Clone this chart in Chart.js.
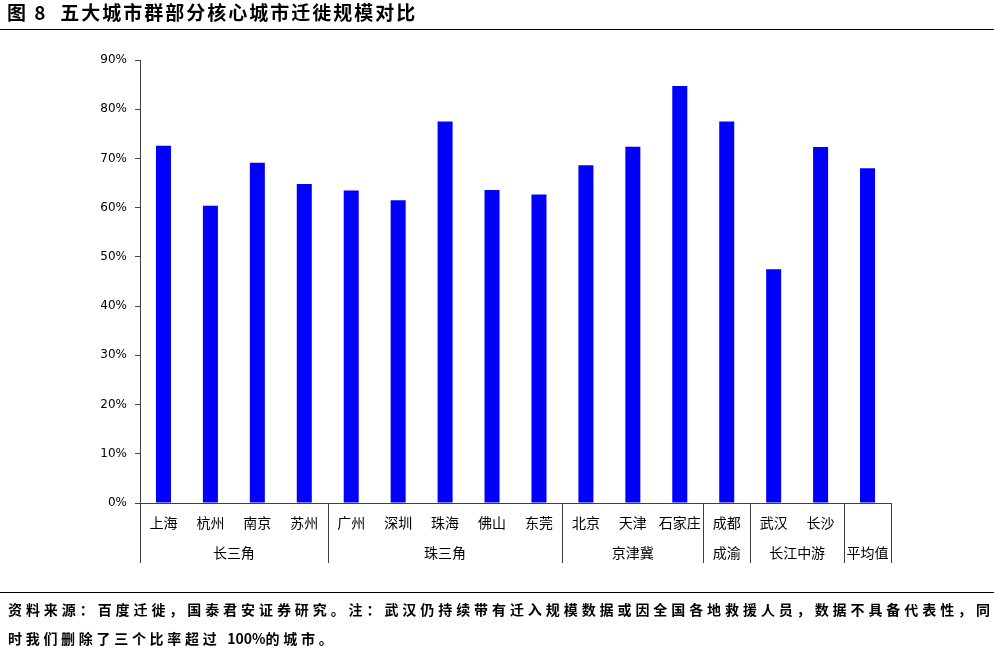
<!DOCTYPE html>
<html>
<head>
<meta charset="utf-8">
<script src="https://cdn.jsdelivr.net/npm/chart.js@4/dist/chart.umd.min.js"></script>
<style>
  html, body { margin: 0; padding: 0; background: #fff; }
  #wrap { position: relative; width: 994px; height: 653px; overflow: hidden; }
  #c { position: absolute; left: 0; top: 0; }
  #title { position: absolute; left: 7px; top: 0px; font: bold 19px "Noto Sans CJK SC", sans-serif; letter-spacing: 2px; color: #000; line-height: 24px; white-space: pre; }
  #topline { position: absolute; left: 0; top: 29px; width: 994px; height: 0; border-top: 1.5px solid #000; }
  #botline { position: absolute; left: 0; top: 592px; width: 994px; height: 0; border-top: 1.5px solid #000; }
  .foot { position: absolute; left: 8px; font: bold 14px "Noto Sans CJK SC", sans-serif; color: #000; white-space: nowrap; line-height: 18px; }
  #f1 { width: 982px; text-align: justify; text-align-last: justify; text-justify: inter-character; }
  #f2 { letter-spacing: 3.7px; }
  #f2 .num { letter-spacing: 0; }
</style>
</head>
<body>
<div id="wrap">
  <canvas id="c" width="994" height="653"></canvas>
  <div id="title">图 8  五大城市群部分核心城市迁徙规模对比</div>
  <div id="topline"></div>
  <div id="botline"></div>
  <div class="foot" id="f1" style="top:600px">资料来源：百度迁徙，国泰君安证券研究。注：武汉仍持续带有迁入规模数据或因全国各地救援人员，数据不具备代表性，同</div>
  <div class="foot" id="f2" style="top:629px">时我们删除了三个比率超过 <span class="num">100%</span>的城市。</div>
</div>
<script>
const cities = ['上海','杭州','南京','苏州','广州','深圳','珠海','佛山','东莞','北京','天津','石家庄','成都','武汉','长沙',''];
const migrationRatio = [72.6, 60.4, 69.1, 64.8, 63.5, 61.5, 77.5, 63.6, 62.7, 68.6, 72.4, 84.7, 77.5, 47.5, 72.3, 68.0];
const groupNames = ['长三角','珠三角','京津冀','成渝','长江中游','平均值'];
const groupSizes = [4, 5, 3, 1, 2, 1];
const yTicks = [0, 10, 20, 30, 40, 50, 60, 70, 80, 90];

const AXIS = '#404040';
const LABEL_FONT = '"DejaVu Sans", "Noto Sans CJK SC", sans-serif';

const groupPlugin = {
  id: 'groupRow',
  afterDraw(chart) {
    const x = chart.scales.x;
    const ctx = chart.ctx;
    const n = cities.length;
    const w = (x.right - x.left) / n;
    const top = x.top;
    const bottom = top + 60;
    ctx.save();
    ctx.strokeStyle = AXIS;
    ctx.lineWidth = 1;
    let start = 0;
    const edges = [0];
    groupSizes.forEach(s => { start += s; edges.push(start); });
    edges.forEach(e => {
      const px = Math.round(x.getPixelForValue(0) - w / 2 + e * w) + 0.5;
      ctx.beginPath();
      ctx.moveTo(px, top);
      ctx.lineTo(px, bottom);
      ctx.stroke();
    });
    ctx.fillStyle = '#000';
    ctx.font = '14px "Noto Sans CJK SC", sans-serif';
    ctx.textAlign = 'center';
    ctx.textBaseline = 'middle';
    for (let i = 0; i < groupNames.length; i++) {
      const a = x.getPixelForValue(0) - w / 2 + edges[i] * w;
      const b = x.getPixelForValue(0) - w / 2 + edges[i + 1] * w;
      ctx.fillText(groupNames[i], (a + b) / 2, top + 50);
    }
    ctx.restore();
  }
};

new Chart(document.getElementById('c'), {
  type: 'bar',
  data: {
    labels: cities,
    datasets: [{
      data: migrationRatio,
      backgroundColor: '#0000FF',
      borderWidth: 0,
      categoryPercentage: 1,
      barPercentage: 0.32
    }]
  },
  options: {
    responsive: false,
    animation: false,
    devicePixelRatio: 1,
    layout: { padding: { left: 80, right: 103, top: 60, bottom: 80 } },
    plugins: { legend: { display: false }, tooltip: { enabled: false }, title: { display: false } },
    scales: {
      x: {
        type: 'category',
        grid: { display: false, drawTicks: false },
        border: { display: true, color: AXIS, width: 1 },
        ticks: { color: '#000', font: { family: '"Noto Sans CJK SC", sans-serif', size: 14 }, padding: 11, maxRotation: 0, autoSkip: false },
        afterFit(s) { s.height = 70; }
      },
      y: {
        min: 0, max: 90,
        afterBuildTicks(s) { s.ticks = yTicks.map(v => ({ value: v })); },
        grid: { display: true, drawOnChartArea: false, drawTicks: true, tickLength: 5, color: AXIS },
        border: { display: true, color: AXIS, width: 1 },
        ticks: { color: '#000', font: { family: LABEL_FONT, size: 12 }, padding: 8, callback: v => v + '%' },
        afterFit(s) { s.width = 60; }
      }
    }
  },
  plugins: [groupPlugin]
});
</script>
</body>
</html>
